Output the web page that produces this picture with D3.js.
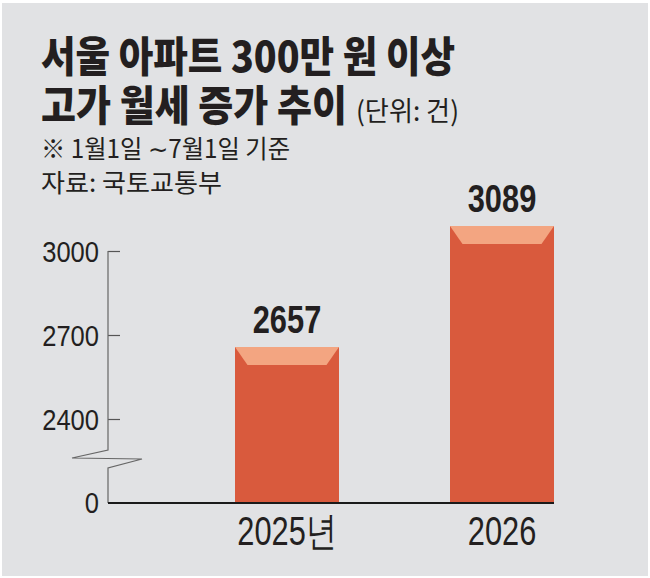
<!DOCTYPE html>
<html>
<head>
<meta charset="utf-8">
<script src="https://cdn.jsdelivr.net/npm/d3@7"></script>
<style>
  html, body { margin: 0; padding: 0; background: #ffffff; }
  svg { display: block; }
</style>
</head>
<body>
<svg id="chart" width="650" height="578"></svg>
<script>
// ---- data ----
const categories = ["2025년", "2026"];
const values = [2657, 3089];
const valueLabels = ["2657", "3089"];
const yTickValues = [2400, 2700, 3000];
const yTickLabels = ["2400", "2700", "3000"];
const zeroLabel = "0";
const titleLine1 = "서울 아파트 300만 원 이상";
const titleLine2 = "고가 월세 증가 추이";
const unitText = "(단위: 건)";
const noteText = "※ 1월1일 ∼7월1일 기준";
const sourceText = "자료: 국토교통부";

// ---- setup ----
const svg = d3.select("#chart");
const textColor = "#231f20";
const numFont = "'Liberation Sans Narrow', 'Liberation Sans', Arial, sans-serif";
const krFont = "'Noto Sans CJK KR', 'Noto Sans KR', sans-serif";

svg.append("rect").attr("x", 2).attr("y", 3).attr("width", 646).attr("height", 573)
  .attr("fill", "#e1e2e4");

// condense a text element horizontally by a factor
function condense(sel, factor) {
  sel.each(function () {
    const w = this.getComputedTextLength();
    d3.select(this).attr("textLength", w * factor).attr("lengthAdjust", "spacingAndGlyphs");
  });
}

// ---- titles ----
function addText(txt, x, y, size, weight, len) {
  return svg.append("text")
    .attr("x", x).attr("y", y)
    .attr("font-family", krFont)
    .attr("font-size", size)
    .attr("font-weight", weight)
    .attr("fill", textColor)
    .attr("textLength", len)
    .attr("lengthAdjust", "spacingAndGlyphs")
    .text(txt);
}
addText(titleLine1, 41, 72, 42, 900, 414);
addText(titleLine2, 41, 121, 42, 900, 306);
addText(unitText, 356, 121, 27, 400, 103);
addText(noteText, 41, 158, 25, 400, 249);
addText(sourceText, 41, 192, 25, 400, 181);

// ---- scales ----
const x = d3.scaleBand()
  .domain(categories)
  .range([235, 554])
  .paddingInner(0.5163)
  .paddingOuter(0);

const y = d3.scaleLinear().domain([2400, 3000]).range([419, 251]);
const axisX = 108;
const baseY = y(2100); // broken axis: baseline one interval below 2400

// ---- y axis ----
const yAxis = d3.axisLeft(y)
  .tickValues(yTickValues)
  .tickFormat((d, i) => yTickLabels[i])
  .tickSizeInner(-12)
  .tickSizeOuter(0)
  .tickPadding(9);

const gy = svg.append("g").attr("transform", `translate(${axisX},0)`).call(yAxis);
gy.select(".domain").remove();
gy.selectAll(".tick line").attr("stroke", "#555").attr("stroke-width", 1.2);
gy.selectAll(".tick text")
  .attr("font-family", numFont)
  .attr("font-size", 29)
  .attr("fill", textColor)
  .attr("dy", "0.36em")
  .call(condense, 0.88);

// axis line with break zigzag
const b1 = y(2400) + 31, b2 = b1 + 8, b3 = b1 + 9, b4 = b1 + 18;
const axisPath = d3.path();
axisPath.moveTo(axisX, y(3000));
axisPath.lineTo(axisX, b1);
axisPath.lineTo(axisX - 36, b2);
axisPath.lineTo(axisX + 34, b3);
axisPath.lineTo(axisX, b4);
axisPath.lineTo(axisX, baseY);
svg.append("path").attr("d", axisPath.toString())
  .attr("fill", "none").attr("stroke", "#666").attr("stroke-width", 1.2);

// zero label
svg.append("text")
  .attr("x", axisX - 9).attr("y", baseY).attr("dy", "0.36em")
  .attr("text-anchor", "end")
  .attr("font-family", numFont).attr("font-size", 29).attr("fill", textColor)
  .text(zeroLabel)
  .call(condense, 0.88);

// ---- bars ----
const bevelH = 18, bevelIn = 12.5;
const bars = svg.append("g");
categories.forEach((c, i) => {
  const x0 = x(c), bw = x.bandwidth(), top = y(values[i]);
  bars.append("rect")
    .attr("x", x0).attr("y", top)
    .attr("width", bw).attr("height", baseY - top)
    .attr("fill", "#d95a3d");
  bars.append("polygon")
    .attr("points", [
      [x0, top], [x0 + bw, top], [x0 + bw - bevelIn, top + bevelH], [x0 + bevelIn, top + bevelH]
    ].map(p => p.join(",")).join(" "))
    .attr("fill", "#f3a581");
  svg.append("text")
    .attr("x", x0 + bw / 2).attr("y", top - 14)
    .attr("text-anchor", "middle")
    .attr("font-family", numFont).attr("font-weight", 700)
    .attr("font-size", 39).attr("fill", textColor)
    .text(valueLabels[i])
    .call(condense, 0.79);
});

// baseline
svg.append("line")
  .attr("x1", axisX).attr("x2", x.range()[1])
  .attr("y1", baseY).attr("y2", baseY)
  .attr("stroke", "#1a1a1a").attr("stroke-width", 2);

// x labels
const xAxis = d3.axisBottom(x).tickSize(0).tickPadding(14);
const gx = svg.append("g").attr("transform", `translate(0,${baseY})`).call(xAxis);
gx.select(".domain").remove();
gx.selectAll(".tick text")
  .attr("font-family", numFont)
  .attr("font-size", 40)
  .attr("fill", textColor)
  .attr("dy", "0.71em")
  .call(condense, 0.77);
</script>
</body>
</html>
